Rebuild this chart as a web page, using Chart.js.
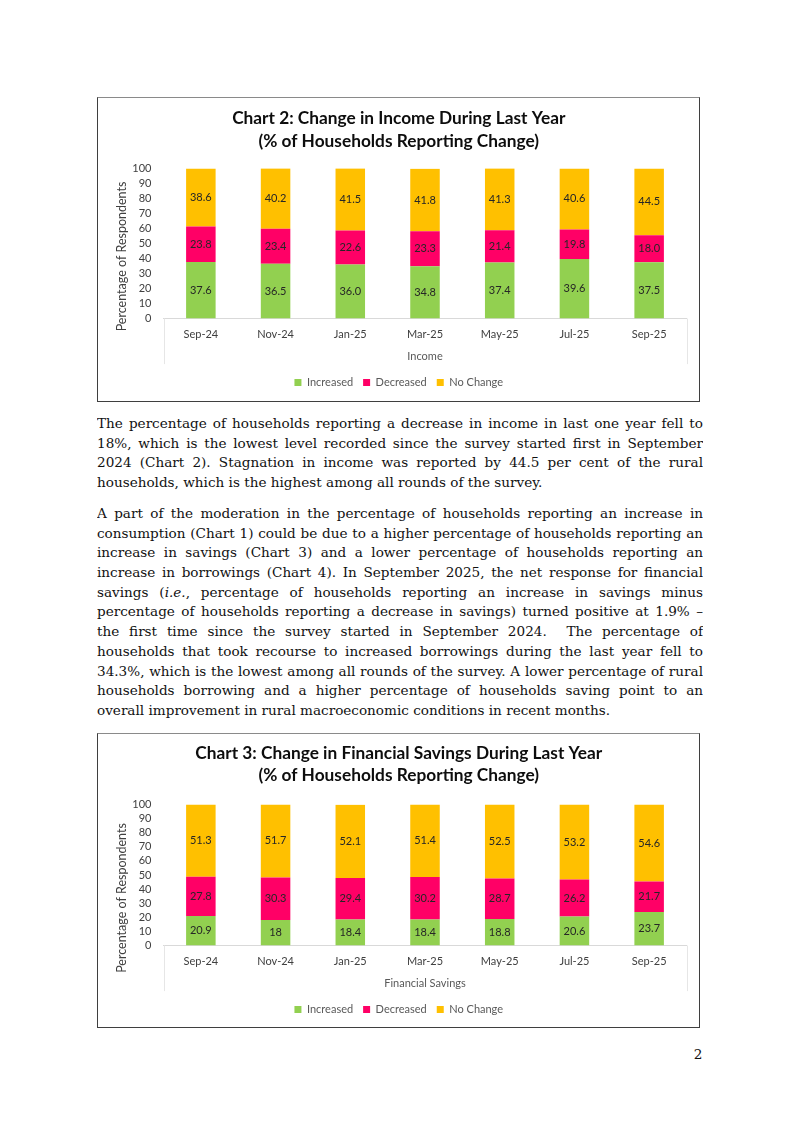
<!DOCTYPE html>
<html>
<head>
<meta charset="utf-8">
<script src="https://cdn.jsdelivr.net/npm/chart.js@4.4.1/dist/chart.umd.min.js"></script>
<style>
  html, body { margin: 0; padding: 0; background: #ffffff; }
  body { width: 800px; height: 1130px; position: relative; overflow: hidden; }
  .box { position: absolute; left: 97px; width: 603px; box-sizing: border-box;
         border: 1.5px solid #3f3f3f; border-top-color: #8a8a8a; background: #fff; }
  .box canvas { position: absolute; left: 0; top: 0; }
  #box1 { top: 97px; height: 305px; }
  #box2 { top: 733px; height: 295px; }
  .para { position: absolute; left: 97px; width: 606px; font-family: "DejaVu Serif", Georgia, serif;
          font-size: 14px; line-height: 19.7px; color: #111; }
  #p1 { top: 414px; }
  #p2 { top: 504px; }
  .ln { height: 19.7px; overflow: hidden; }
  .j { text-align: justify; text-align-last: justify; }
  .l { text-align: left; }
  #pageno { position: absolute; left: 690px; top: 1046px; width: 16px; text-align: center;
            font-family: "DejaVu Serif", serif; font-size: 14px; color: #111; }
</style>
</head>
<body>
<div class="box" id="box1"><canvas id="c1" width="600" height="302"></canvas></div>

<div class="para" id="p1">
  <div class="ln j">The percentage of households reporting a decrease in income in last one year fell to</div>
  <div class="ln j">18%, which is the lowest level recorded since the survey started first in September</div>
  <div class="ln j">2024 (Chart 2). Stagnation in income was reported by 44.5 per cent of the rural</div>
  <div class="ln l" id="refline">households, which is the highest among all rounds of the survey.</div>
</div>
<div class="para" id="p2">
  <div class="ln j">A part of the moderation in the percentage of households reporting an increase in</div>
  <div class="ln j">consumption (Chart 1) could be due to a higher percentage of households reporting an</div>
  <div class="ln j">increase in savings (Chart 3) and a lower percentage of households reporting an</div>
  <div class="ln j">increase in borrowings (Chart 4). In September 2025, the net response for financial</div>
  <div class="ln j">savings (<i>i.e.</i>, percentage of households reporting an increase in savings minus</div>
  <div class="ln j">percentage of households reporting a decrease in savings) turned positive at 1.9% –</div>
  <div class="ln j">the first time since the survey started in September 2024.&nbsp; The percentage of</div>
  <div class="ln j">households that took recourse to increased borrowings during the last year fell to</div>
  <div class="ln j">34.3%, which is the lowest among all rounds of the survey. A lower percentage of rural</div>
  <div class="ln j">households borrowing and a higher percentage of households saving point to an</div>
  <div class="ln l">overall improvement in rural macroeconomic conditions in recent months.</div>
</div>

<div class="box" id="box2"><canvas id="c2" width="600" height="292"></canvas></div>
<div id="pageno">2</div>

<script>
// ---- Data ----
const categories = ['Sep-24', 'Nov-24', 'Jan-25', 'Mar-25', 'May-25', 'Jul-25', 'Sep-25'];
const seriesNames = ['Increased', 'Decreased', 'No Change'];

const incomeIncreased = [37.6, 36.5, 36.0, 34.8, 37.4, 39.6, 37.5];
const incomeDecreased = [23.8, 23.4, 22.6, 23.3, 21.4, 19.8, 18.0];
const incomeNoChange  = [38.6, 40.2, 41.5, 41.8, 41.3, 40.6, 44.5];

const savingsIncreased = [20.9, 18, 18.4, 18.4, 18.8, 20.6, 23.7];
const savingsDecreased = [27.8, 30.3, 29.4, 30.2, 28.7, 26.2, 21.7];
const savingsNoChange  = [51.3, 51.7, 52.1, 51.4, 52.5, 53.2, 54.6];

const yTicks = [0, 10, 20, 30, 40, 50, 60, 70, 80, 90, 100];

const chart2Title = ['Chart 2: Change in Income During Last Year', '(% of Households Reporting Change)'];
const chart3Title = ['Chart 3: Change in Financial Savings During Last Year', '(% of Households Reporting Change)'];
const yAxisTitle = 'Percentage of Respondents';

// ---- Fit paragraph font: match the reference natural width of the last line, never wrap ----
(function fitText() {
  const fam = '"DejaVu Serif"';
  const cv = document.createElement('canvas').getContext('2d');
  cv.font = '100px ' + fam;
  const refW = cv.measureText(document.getElementById('refline').textContent).width;
  let fs = 458 * 100 / refW;
  let maxW = 0;
  document.querySelectorAll('.para .ln.j').forEach(d => {
    maxW = Math.max(maxW, cv.measureText(d.textContent).width);
  });
  fs = Math.min(fs, 601 * 100 / maxW);
  document.querySelectorAll('.para').forEach(p => p.style.fontSize = fs + 'px');
  document.getElementById('pageno').style.fontSize = fs + 'px';
})();

// ---- Chart setup ----
const COLORS = ['#92D050', '#FF0066', '#FFC000'];
Chart.defaults.font.family = 'Lato, "Open Sans", sans-serif';
Chart.defaults.color = '#595959';

function makeValueLabels(fmt) {
  return {
    id: 'valueLabels',
    afterDatasetsDraw(chart) {
      const ctx = chart.ctx;
      ctx.save();
      ctx.font = '11px Lato, sans-serif';
      ctx.fillStyle = '#262626';
      ctx.textAlign = 'center';
      ctx.textBaseline = 'middle';
      chart.data.datasets.forEach((ds, di) => {
        const meta = chart.getDatasetMeta(di);
        meta.data.forEach((el, i) => {
          ctx.fillText(fmt(ds.data[i]), el.x, (el.y + el.base) / 2);
        });
      });
      ctx.restore();
    }
  };
}

// rotated y-axis title, placed like the Excel original (a little below the plot centre)
function makeYTitle(shift) {
  return {
    id: 'yTitle',
    afterDraw(chart) {
      const { ctx, chartArea } = chart;
      ctx.save();
      ctx.font = '12.5px Lato, sans-serif';
      ctx.fillStyle = '#404040';
      ctx.textAlign = 'center';
      ctx.textBaseline = 'middle';
      ctx.translate(chartArea.left - 42, (chartArea.top + chartArea.bottom) / 2 + shift);
      ctx.rotate(-Math.PI / 2);
      ctx.fillText(yAxisTitle, 0, 0);
      ctx.restore();
    }
  };
}

// faint plot-area frame lines below the axis (Excel plot area border)
const plotFrame = {
  id: 'plotFrame',
  beforeDatasetsDraw(chart) {
    const { ctx, chartArea } = chart;
    const xs = chart.scales.x;
    ctx.save();
    ctx.strokeStyle = '#e6e6e6';
    ctx.lineWidth = 1;
    ctx.beginPath();
    [chartArea.left, chartArea.right].forEach(x => {
      ctx.moveTo(Math.round(x) + 0.5, chartArea.bottom);
      ctx.lineTo(Math.round(x) + 0.5, xs.bottom - 3);
    });
    ctx.stroke();
    ctx.restore();
  }
};

function makeChart(id, title, xTitle, inc, dec, noc, fmt, opt) {
  const values = [inc, dec, noc];
  return new Chart(document.getElementById(id), {
    type: 'bar',
    data: {
      labels: categories,
      datasets: seriesNames.map((n, k) => ({
        label: n,
        data: values[k],
        backgroundColor: COLORS[k],
        borderWidth: 0,
        barPercentage: 0.395,
        categoryPercentage: 1.0
      }))
    },
    options: {
      responsive: false,
      animation: false,
      layout: { padding: { left: 13, right: 11.5, top: 0, bottom: opt.bottomPad } },
      plugins: {
        title: {
          display: true,
          text: title,
          color: '#0d0d0d',
          font: { size: 17.3, weight: 'bold', lineHeight: opt.titleLH + 'px' },
          padding: { top: opt.titleTop, bottom: opt.titleBottom }
        },
        legend: {
          position: 'bottom',
          labels: { boxWidth: 7, boxHeight: 7, padding: 10, color: '#595959', font: { size: 11 } }
        },
        tooltip: { enabled: false }
      },
      scales: {
        x: {
          stacked: true,
          grid: { display: false, drawTicks: false },
          border: { display: true, color: '#d9d9d9', width: 1 },
          ticks: { padding: 9, color: '#404040', font: { size: 11 }, maxRotation: 0 },
          title: { display: true, text: xTitle, color: '#595959', font: { size: 11 }, padding: { top: 0.2, bottom: 4 } }
        },
        y: {
          stacked: true,
          min: 0, max: 100,
          grid: { display: false, drawTicks: false },
          border: { display: false },
          afterBuildTicks: s => { s.ticks = yTicks.map(v => ({ value: v })); },
          afterFit: s => { s.width = 52.5; },
          ticks: { padding: 12, autoSkip: false, color: '#404040', font: { size: 11 } },
          title: { display: false }
        }
      }
    },
    plugins: [makeValueLabels(fmt), plotFrame, makeYTitle(opt.yTitleShift)]
  });
}

makeChart('c1', chart2Title, 'Income', incomeIncreased, incomeDecreased, incomeNoChange,
  v => v.toFixed(1), { titleTop: 9, titleBottom: 15.5, titleLH: 23, bottomPad: 1.9, yTitleShift: 13 });
makeChart('c2', chart3Title, 'Financial Savings', savingsIncreased, savingsDecreased, savingsNoChange,
  v => String(v), { titleTop: 8.5, titleBottom: 18, titleLH: 22, bottomPad: 0.9, yTitleShift: 23 });
</script>
</body>
</html>
